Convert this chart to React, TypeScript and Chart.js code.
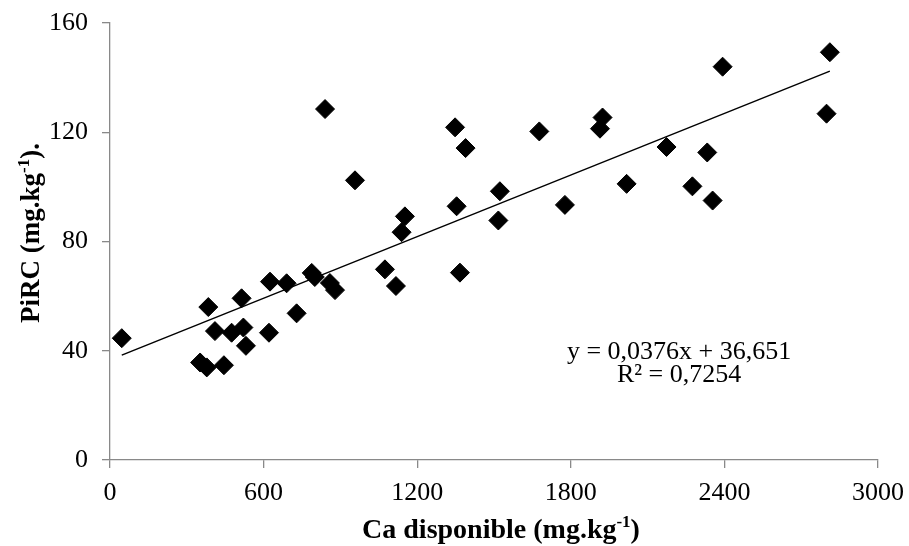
import React, { useEffect, useRef } from "react";
import { Chart, registerables } from "chart.js";

Chart.register(...registerables);

const caValues = [
  46, 352, 378, 445, 384, 410, 475, 521, 531, 514, 621, 625, 690, 729, 788, 800, 859, 879,
  840, 957, 1152, 1139, 1074, 1117, 1348, 1389, 1354, 1367, 1523, 1517, 1677, 1777,
  1924, 1914, 2174, 2018, 2333, 2275, 2354, 2393, 2812, 2799,
];
const pircValues = [
  44.6, 35.7, 33.9, 34.7, 56.0, 47.2, 46.6, 48.5, 41.8, 59.2, 46.6, 65.3, 64.7, 53.7, 68.5, 67.0, 64.8, 62.2,
  128.5, 102.4, 89.2, 83.4, 69.8, 63.7, 121.8, 114.2, 92.9, 68.6, 98.4, 87.7, 120.3, 93.4,
  125.4, 121.3, 114.6, 101.1, 112.6, 100.2, 95.0, 144.0, 149.3, 126.8,
];
const trendSlope = 0.0376;
const trendIntercept = 36.651;
const trendRange = [46, 2812];
const xTicks = [0, 600, 1200, 1800, 2400, 3000];
const yTicks = [0, 40, 80, 120, 160];
const xTitleMain = "Ca disponible (mg.kg";
const xTitleSup = "-1";
const xTitleEnd = ")";
const yTitleMain = "PiRC (mg.kg";
const yTitleSup = "-1";
const yTitleEnd = ").";
const equationLines = ["y = 0,0376x + 36,651", "R² = 0,7254"];

const SERIF = "'Liberation Serif', 'Times New Roman', serif";
const AXIS_GRAY = "#898989";

function drawSupTitle(ctx: CanvasRenderingContext2D, main: string, sup: string, end: string, size: number) {
  const mainFont = `bold ${size}px ${SERIF}`;
  const supFont = `bold ${Math.round(size * 0.62)}px ${SERIF}`;
  ctx.font = mainFont;
  const w1 = ctx.measureText(main).width;
  const w3 = ctx.measureText(end).width;
  ctx.font = supFont;
  const w2 = ctx.measureText(sup).width;
  const total = w1 + w2 + w3;
  let x = -total / 2;
  ctx.textBaseline = "alphabetic";
  ctx.textAlign = "left";
  ctx.font = mainFont;
  ctx.fillText(main, x, 0);
  x += w1;
  ctx.font = supFont;
  ctx.fillText(sup, x, -size * 0.38);
  x += w2;
  ctx.font = mainFont;
  ctx.fillText(end, x, 0);
}

const titlesPlugin = {
  id: "customTitles",
  afterDraw(chart: any) {
    const { ctx } = chart;
    const xs = chart.scales.x;
    const ys = chart.scales.y;
    ctx.save();
    ctx.fillStyle = "#000";
    // x title
    ctx.save();
    ctx.translate(501, 538);
    drawSupTitle(ctx, xTitleMain, xTitleSup, xTitleEnd, 28);
    ctx.restore();
    // y title
    ctx.save();
    ctx.translate(39, 233);
    ctx.rotate(-Math.PI / 2);
    drawSupTitle(ctx, yTitleMain, yTitleSup, yTitleEnd, 27);
    ctx.restore();
    // equation
    ctx.font = `26px ${SERIF}`;
    ctx.textAlign = "center";
    ctx.textBaseline = "alphabetic";
    const cx = xs.getPixelForValue(2223);
    const y0 = ys.getPixelForValue(36.9);
    equationLines.forEach((line, i) => {
      ctx.fillText(line, cx, y0 + i * 23);
    });
    ctx.restore();
  },
};

const zeroPad = (scale: any) => {
  scale.paddingLeft = 0;
  scale.paddingRight = 0;
  scale.paddingTop = 0;
  scale.paddingBottom = 0;
};

export default function App() {
  const canvasRef = useRef<HTMLCanvasElement | null>(null);

  useEffect(() => {
    if (!canvasRef.current) return;
    const points = caValues.map((x, i) => ({ x, y: pircValues[i] }));
    const trend = trendRange.map((x) => ({ x, y: trendSlope * x + trendIntercept }));
    const chart = new Chart(canvasRef.current, {
      type: "scatter",
      data: {
        datasets: [
          {
            type: "line",
            data: trend,
            borderColor: "#000",
            borderWidth: 1.5,
            pointRadius: 0,
            fill: false,
            order: 2,
          } as any,
          {
            data: points,
            pointStyle: "rectRot",
            pointRadius: 9.5,
            pointBackgroundColor: "#000",
            pointBorderColor: "#000",
            pointBorderWidth: 1,
            order: 1,
          },
        ],
      },
      options: {
        animation: false,
        responsive: false,
        events: [],
        layout: { padding: { top: 23, right: 31, left: 0, bottom: 0 } },
        plugins: { legend: { display: false }, tooltip: { enabled: false }, title: { display: false } },
        scales: {
          x: {
            type: "linear",
            min: 0,
            max: 3000,
            afterBuildTicks: (scale: any) => {
              scale.ticks = xTicks.map((v) => ({ value: v }));
            },
            afterFit: (scale: any) => {
              scale.height = 86;
              zeroPad(scale);
            },
            ticks: {
              color: "#000",
              font: { family: SERIF, size: 26 },
              padding: 10,
              maxRotation: 0,
              autoSkip: false,
              callback: (v: any) => String(v),
            },
            grid: {
              display: true,
              drawOnChartArea: false,
              drawTicks: true,
              tickLength: 8,
              color: AXIS_GRAY,
              lineWidth: 1.3,
            },
            border: { color: AXIS_GRAY, width: 1.3 },
          },
          y: {
            type: "linear",
            min: 0,
            max: 160,
            afterBuildTicks: (scale: any) => {
              scale.ticks = yTicks.map((v) => ({ value: v }));
            },
            afterFit: (scale: any) => {
              scale.width = 110;
              zeroPad(scale);
            },
            ticks: {
              color: "#000",
              font: { family: SERIF, size: 26 },
              padding: 14,
              autoSkip: false,
              callback: (v: any) => String(v),
            },
            grid: {
              display: true,
              drawOnChartArea: false,
              drawTicks: true,
              tickLength: 8,
              color: AXIS_GRAY,
              lineWidth: 1.3,
            },
            border: { color: AXIS_GRAY, width: 1.3 },
          },
        },
      },
      plugins: [titlesPlugin],
    });
    return () => chart.destroy();
  }, []);

  return (
    <div style={{ position: "fixed", left: 0, top: 0, width: 909, height: 546, background: "#fff" }}>
      <canvas ref={canvasRef} width={909} height={546} style={{ display: "block" }} />
    </div>
  );
}
